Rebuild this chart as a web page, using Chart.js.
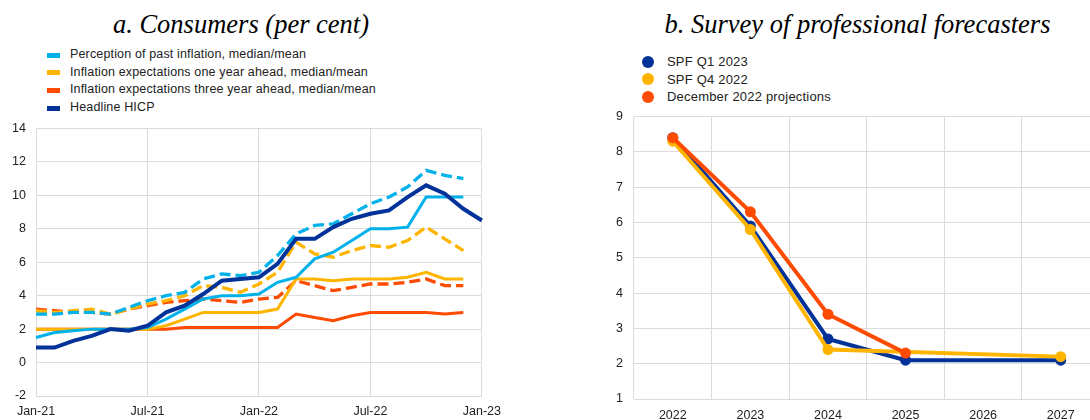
<!DOCTYPE html>
<html>
<head>
<meta charset="utf-8">
<script src="https://cdn.jsdelivr.net/npm/chart.js@4/dist/chart.umd.min.js"></script>
<style>
  html, body {
    margin: 0;
    padding: 0;
    background: #fff;
    overflow: hidden;
  }
  body {
    width: 1090px;
    height: 420px;
    position: relative;
    font-family: "Liberation Sans", Arial, sans-serif;
  }
  .title {
    position: absolute;
    top: 9px;
    font-family: "Liberation Serif", "Times New Roman", serif;
    font-style: italic;
    font-size: 26.5px;
    color: #000;
    text-align: center;
    white-space: nowrap;
  }
  .legend {
    position: absolute;
    font-size: 12.5px;
    letter-spacing: 0.15px;
    color: #222;
  }
  .legend .row {
    height: 17.7px;
    line-height: 17.7px;
    white-space: nowrap;
    position: relative;
    padding-left: 23px;
  }
  .legend .line {
    position: absolute;
    left: 0;
    top: 6.5px;
    width: 13px;
    height: 5px;
  }
  .legend .dot {
    position: absolute;
    left: 0;
    top: 2.5px;
    width: 12px;
    height: 12px;
    border-radius: 50%;
  }
  #legendB { font-size: 13px; letter-spacing: 0.2px; }
  #legendB .row { padding-left: 25px; }
  canvas { position: absolute; }
</style>
</head>
<body>
<div class="title" style="left:0; width:482px;">a. Consumers (per cent)</div>
<div class="title" style="left:625px; width:465px;">b. Survey of professional forecasters</div>
<div class="legend" id="legendA" style="left:47px; top:46px;"></div>
<div class="legend" id="legendB" style="left:642px; top:53px;"></div>
<canvas id="consumers" width="509" height="309" style="left:0; top:111px;"></canvas>
<canvas id="spf" width="515" height="322" style="left:590px; top:98px;"></canvas>

<script>
// panel a: monthly, Jan-21 .. Jan-23
const months = ['Jan-21', 'Feb-21', 'Mar-21', 'Apr-21', 'May-21', 'Jun-21', 'Jul-21', 'Aug-21', 'Sep-21', 'Oct-21', 'Nov-21', 'Dec-21',
  'Jan-22', 'Feb-22', 'Mar-22', 'Apr-22', 'May-22', 'Jun-22', 'Jul-22', 'Aug-22', 'Sep-22', 'Oct-22', 'Nov-22', 'Dec-22', 'Jan-23'];
const monthTicks = ['Jan-21', 'Jul-21', 'Jan-22', 'Jul-22', 'Jan-23'];

const hicp = [0.9, 0.9, 1.3, 1.6, 2.0, 1.9, 2.2, 3.0, 3.4, 4.1, 4.9, 5.0, 5.1, 5.9, 7.4, 7.4, 8.1, 8.6, 8.9, 9.1, 9.9, 10.6, 10.1, 9.2, 8.5];
const pastMedian = [1.5, 1.8, 1.9, 2.0, 2.0, 2.0, 2.1, 2.6, 3.2, 3.8, 4.0, 4.0, 4.1, 4.8, 5.1, 6.2, 6.6, 7.3, 8.0, 8.0, 8.1, 9.9, 9.9, 9.9, null];
const pastMean = [2.9, 2.9, 3.0, 3.0, 2.9, 3.3, 3.7, 4.0, 4.2, 5.0, 5.3, 5.2, 5.4, 6.4, 7.7, 8.2, 8.3, 8.9, 9.5, 9.9, 10.5, 11.5, 11.2, 11.0, null];
const oneYearMedian = [2.0, 2.0, 2.0, 2.0, 2.0, 2.0, 2.0, 2.2, 2.6, 3.0, 3.0, 3.0, 3.0, 3.2, 5.0, 5.0, 4.9, 5.0, 5.0, 5.0, 5.1, 5.4, 5.0, 5.0, null];
const oneYearMean = [3.1, 3.0, 3.1, 3.2, 2.9, 3.2, 3.5, 3.7, 4.0, 4.6, 4.5, 4.2, 4.7, 5.4, 7.2, 6.5, 6.3, 6.7, 7.0, 6.9, 7.3, 8.1, 7.4, 6.7, null];
const threeYearMedian = [2.0, 2.0, 2.0, 2.0, 2.0, 2.0, 2.0, 2.0, 2.1, 2.1, 2.1, 2.1, 2.1, 2.1, 2.9, 2.7, 2.5, 2.8, 3.0, 3.0, 3.0, 3.0, 2.9, 3.0, null];
const threeYearMean = [3.2, 3.1, 3.0, 3.0, 2.9, 3.2, 3.4, 3.6, 3.7, 3.8, 3.7, 3.6, 3.8, 3.9, 4.9, 4.6, 4.3, 4.5, 4.7, 4.7, 4.8, 5.0, 4.6, 4.6, null];

// panel b: annual
const years = ['2022', '2023', '2024', '2025', '2026', '2027'];
const spfQ1_2023 = [8.4, 5.9, 2.7, 2.1, null, 2.1];
const spfQ4_2022 = [8.3, 5.8, 2.4, null, null, 2.2];
const decProjections = [8.4, 6.3, 3.4, 2.3, null, null];

const BLUE = '#00b1ea', YELLOW = '#ffb400', RED = '#ff4b00', NAVY = '#003299';
const GRID = '#dcdcdc';

Chart.defaults.font.family = '"Liberation Sans", Arial, sans-serif';
Chart.defaults.font.size = 12.5;
Chart.defaults.color = '#222';

function addLegend(id, items, kind) {
  const box = document.getElementById(id);
  items.forEach(([label, color]) => {
    const row = document.createElement('div');
    row.className = 'row';
    row.innerHTML = `<span class="${kind}" style="background:${color}"></span>${label}`;
    box.appendChild(row);
  });
}

addLegend('legendA', [
  ['Perception of past inflation, median/mean', BLUE],
  ['Inflation expectations one year ahead, median/mean', YELLOW],
  ['Inflation expectations three year ahead, median/mean', RED],
  ['Headline HICP', NAVY]
], 'line');

addLegend('legendB', [
  ['SPF Q1 2023', NAVY],
  ['SPF Q4 2022', YELLOW],
  ['December 2022 projections', RED]
], 'dot');

const lineSet = (data, color, width, dashed) => ({
  data,
  borderColor: color,
  borderWidth: width,
  borderDash: dashed ? [11, 5] : [],
  pointRadius: 0,
  tension: 0,
  fill: false
});

new Chart(document.getElementById('consumers'), {
  type: 'line',
  data: {
    labels: months,
    datasets: [
      lineSet(hicp, NAVY, 4, false),
      lineSet(pastMean, BLUE, 3.3, true),
      lineSet(pastMedian, BLUE, 3, false),
      lineSet(oneYearMean, YELLOW, 3.3, true),
      lineSet(oneYearMedian, YELLOW, 3, false),
      lineSet(threeYearMean, RED, 3.3, true),
      lineSet(threeYearMedian, RED, 3, false)
    ]
  },
  options: {
    responsive: false,
    animation: false,
    events: [],
    layout: { padding: { top: 12, right: 20, left: 0, bottom: 0 } },
    plugins: { legend: { display: false }, tooltip: { enabled: false } },
    scales: {
      x: {
        grid: {
          color: ctx => monthTicks.includes(months[ctx.index]) ? GRID : 'transparent',
          drawTicks: false
        },
        border: { display: false },
        ticks: {
          autoSkip: false,
          maxRotation: 0,
          padding: 8,
          callback: (v, i) => monthTicks.includes(months[i]) ? months[i] : ''
        },
        afterFit: s => { s.height = 24; }
      },
      y: {
        min: -2,
        max: 14,
        ticks: { stepSize: 2, padding: 10 },
        grid: { color: GRID, drawTicks: false },
        border: { display: false },
        afterFit: s => { s.width = 36; }
      }
    }
  }
});

const spfSet = (data, color) => ({
  data,
  borderColor: color,
  backgroundColor: color,
  borderWidth: 4,
  pointRadius: 5.5,
  pointBorderWidth: 0,
  pointBackgroundColor: color,
  spanGaps: true,
  tension: 0
});

new Chart(document.getElementById('spf'), {
  type: 'line',
  data: {
    labels: years,
    // first dataset is painted on top
    datasets: [
      spfSet(decProjections, RED),
      spfSet(spfQ4_2022, YELLOW),
      spfSet(spfQ1_2023, NAVY)
    ]
  },
  options: {
    responsive: false,
    animation: false,
    events: [],
    layout: { padding: { top: 12, right: 0, left: 0, bottom: 0 } },
    plugins: { legend: { display: false }, tooltip: { enabled: false } },
    scales: {
      x: {
        offset: true,
        grid: { color: GRID, offset: true, drawTicks: false },
        border: { display: false },
        ticks: { padding: 9, maxRotation: 0 },
        afterFit: s => { s.height = 21; }
      },
      y: {
        min: 1,
        max: 9,
        ticks: { stepSize: 1, padding: 11 },
        grid: { color: GRID, drawTicks: false },
        border: { display: false },
        afterFit: s => { s.width = 44; }
      }
    }
  }
});
</script>
</body>
</html>
